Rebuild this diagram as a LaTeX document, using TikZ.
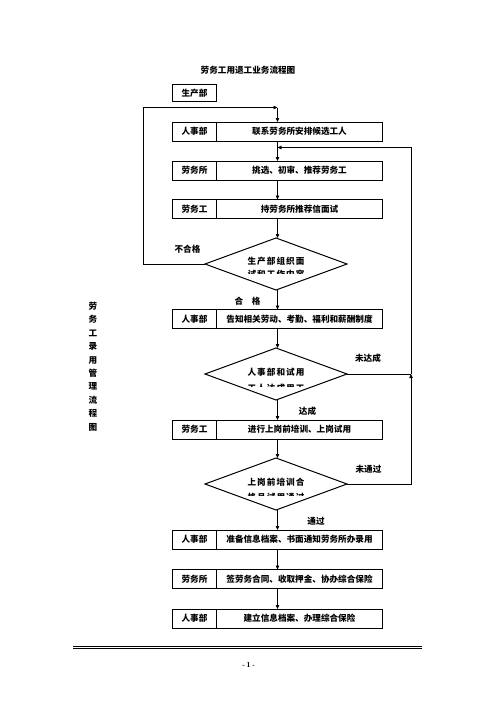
\documentclass[tikz,border=0pt]{standalone}
\usepackage{fontspec}
\setmainfont{Liberation Serif}
\newfontfamily\cjk{Noto Sans CJK SC}
\newfontfamily\cjkw{Noto Sans CJK SC}[LetterSpace=12]
\usetikzlibrary{shapes.geometric,arrows.meta,calc}
\newcommand\flowrow[4]{%
  \node[box] (#1) at (277.5,#2) {};
  \node[cell] (#1l) at (#1.west) {#3};
  \node[txt] (#1t) at ($(#1l.east)!0.5!(#1.east)$) {#4};
}
\begin{document}
\begin{tikzpicture}[x=1pt,y=-1pt,
  every node/.style={inner sep=0pt, outer sep=0pt},
  txt/.style={font=\cjk\bfseries\fontsize{8.6}{10}\selectfont},
  wtxt/.style={font=\cjkw\bfseries\fontsize{8.6}{10}\selectfont},
  box/.style={draw, line width=1pt, minimum width=210pt, minimum height=19pt},
  cell/.style={draw, line width=1pt, minimum width=44pt, minimum height=19pt, anchor=west, txt},
  dia/.style={draw, diamond, line width=1pt, minimum width=142pt, minimum height=52pt},
  arr/.style={line width=0.9pt, -{Triangle[length=4pt,width=3.4pt]}},
  ln/.style={line width=0.9pt}]
\useasboundingbox (0,0) rectangle (496,702);

% title
\node[txt] (title) at (248,70.5) {劳务工用退工业务流程图};
\node[draw, line width=1pt, minimum width=44.5pt, minimum height=17.5pt, txt] (top) at (194.5,93) {生产部};

% rows
\flowrow{b1}{131.5}{人事部}{联系劳务所安排候选工人}
\flowrow{b2}{170.5}{劳务所}{挑选、初审、推荐劳务工}
\flowrow{b3}{209}{劳务工}{持劳务所推荐信面试}
\flowrow{b4}{319}{人事部}{告知相关劳动、考勤、福利和薪酬制度}
\flowrow{b5}{429.5}{劳务工}{进行上岗前培训、上岗试用}
\flowrow{b6}{539.5}{人事部}{准备信息档案、书面通知劳务所办录用}
\flowrow{b7}{579}{劳务所}{签劳务合同、收取押金、协办综合保险}
\flowrow{b8}{618.5}{人事部}{建立信息档案、办理综合保险}

% diamonds
\node[dia] (d1) at (276,264) {};
\node[dia] (d2) at (276,374) {};
\node[dia] (d3) at (276,484) {};
\node[wtxt] (d1a) at (276,261.5) {生产部组织面};
\node[wtxt] (d2a) at (276,372.5) {人事部和试用};
\node[wtxt] (d3a) at (276,482.5) {上岗前培训合};
\begin{scope}
  \clip (200,250) rectangle (350,273);
  \node[wtxt] (d1b) at (276,274.5) {试和工作内容};
\end{scope}
\begin{scope}
  \clip (200,360) rectangle (350,386);
  \node[wtxt] (d2b) at (276,388) {工人达成用工};
\end{scope}
\begin{scope}
  \clip (200,470) rectangle (350,495);
  \node[wtxt] (d3b) at (276,497) {格且试用通过};
\end{scope}

% labels
\node[txt] (lno) at (187.5,249) {不合格};
\node[txt] (lok) at (247.5,301) {合\hspace{8.6pt}格};
\node[txt] (lnd) at (368,358) {未达成};
\node[txt] (ld) at (307.5,411) {达成};
\node[txt] (lnp) at (368.5,469) {未通过};
\node[txt] (lp) at (316,521) {通过};

% vertical title
\node[font=\cjk\bfseries\fontsize{8.6}{13.4}\selectfont, align=center] (vt) at (93,366.5)
  {劳\\务\\工\\录\\用\\管\\理\\流\\程\\图};

% connectors
\coordinate (ll) at (143,264);
\coordinate (lt) at (143,107.5);
\coordinate (j1) at (277.5,107.5);
\coordinate (rt) at (411,147.5);
\coordinate (j2) at (277.5,147.5);
\coordinate (r2) at (411,374);
\coordinate (r3) at (411,484);

\draw[arr] (d1.west) -- (ll) -- (lt) -- (j1);
\draw[arr] (j1) -- (b1.north);
\draw[arr] (b1.south) -- (b2.north);
\draw[arr] (b2.south) -- (b3.north);
\draw[arr] (b3.south) -- (b3.south |- d1.north);
\draw[arr] (b4.north |- d1.south) -- (b4.north);
\draw[arr] (b4.south) -- (b4.south |- d2.north);
\draw[arr] (b5.north |- d2.south) -- (b5.north);
\draw[arr] (b5.south) -- (b5.south |- d3.north);
\draw[arr] (b6.north |- d3.south) -- (b6.north);
\draw[arr] (b6.south) -- (b7.north);
\draw[arr] (b7.south) -- (b8.north);
\draw[ln] (d2.east) -- (r2);
\draw[arr] (d3.east) -- (r3) -- (r2);
\draw[arr] (r2) -- (rt) -- (j2);

% footer
\draw[line width=1pt] (73,646) -- (422,646);
\draw[line width=0.6pt] (73,648.3) -- (422,648.3);
\node[font=\bfseries\fontsize{7.5}{9}\selectfont] (pg) at (248.5,665) {- 1 -};
\end{tikzpicture}
\end{document}
